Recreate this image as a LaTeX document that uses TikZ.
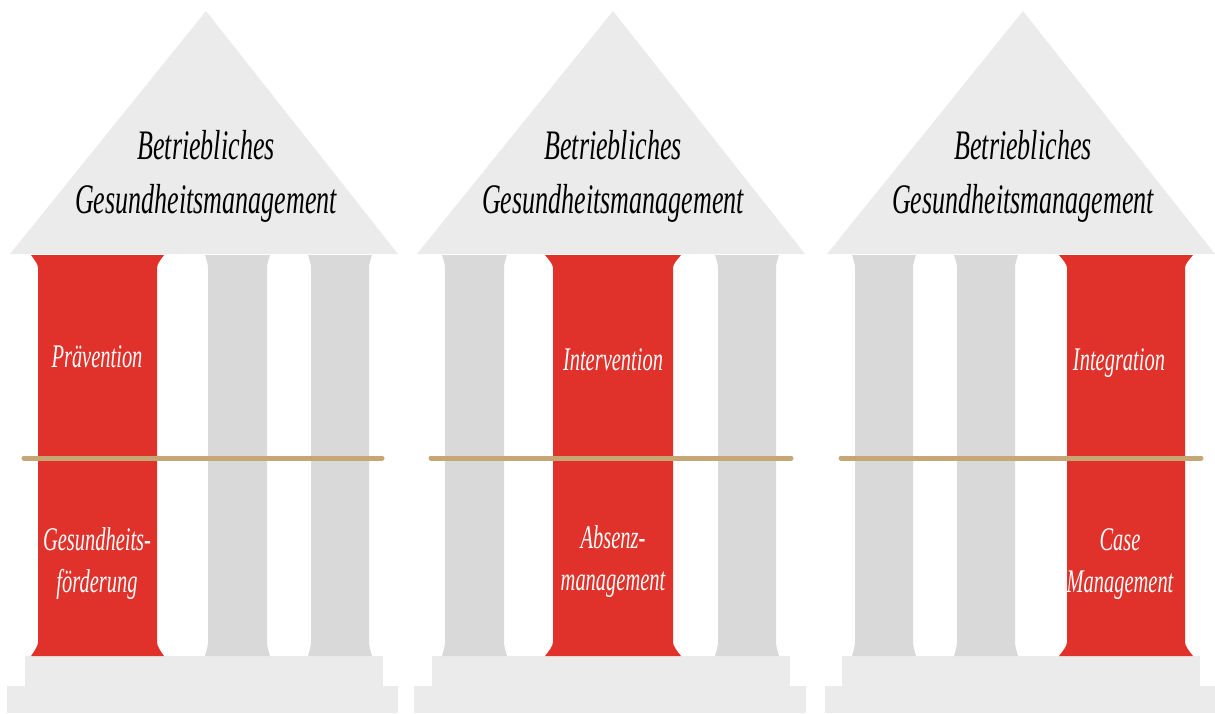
\documentclass[tikz,border=0pt]{standalone}
\usepackage{fontspec}
\setmainfont{Liberation Serif}
\newfontfamily\schmal[FakeStretch=0.62]{Liberation Serif}
\usepackage{tikz}
\usetikzlibrary{positioning}

\definecolor{hellgrau}{HTML}{EBEBEB}
\definecolor{saeulengrau}{HTML}{D9D9D9}
\definecolor{saeulenrot}{HTML}{E0322A}
\definecolor{balkenbraun}{HTML}{C6A674}

% Saeule: Stil, linke Kante, rechte Kante, Ueberstand des Kapitells
\newcommand{\Saeule}[4]{%
  \fill[#1] (#2-#4,255) -- (#3+#4,255)
    .. controls (#3+#4*0.5,260) and (#3,264) .. (#3,268) -- (#3,642)
    .. controls (#3,646) and (#3+#4*0.5,651) .. (#3+#4,656) -- (#2-#4,656)
    .. controls (#2-#4*0.5,651) and (#2,646) .. (#2,642) -- (#2,268)
    .. controls (#2,264) and (#2-#4*0.5,260) .. (#2-#4,255) -- cycle;}

\begin{document}
\begin{tikzpicture}[x=1pt,y=-1pt,
  dach/.style={fill=hellgrau},
  stufe/.style={fill=hellgrau},
  grau/.style={fill=saeulengrau},
  rot/.style={fill=saeulenrot},
  balken/.style={draw=balkenbraun,line width=5pt,line cap=round},
  titel/.style={font=\schmal\itshape\fontsize{42}{54}\selectfont,align=center,text=black,inner sep=0pt},
  schild/.style={font=\schmal\itshape\fontsize{33}{42}\selectfont,align=center,text=white,inner sep=0pt}]
\useasboundingbox (0,0) rectangle (1215,713);

% Tempel 1
\fill[dach] (10,254) -- (206,11) -- (398,254) -- cycle;
\fill[stufe] (25,656) rectangle (383,686);
\fill[stufe] (7,686) rectangle (398,713);
\Saeule{rot}{38}{157}{7}
\Saeule{grau}{208}{267}{3}
\Saeule{grau}{311}{369}{3}
\draw[balken] (24,458) -- (382,458);
\node[titel,anchor=base] (titel1) at (206,213) {Betriebliches\\Gesundheitsmanagement};
\node[schild,anchor=base] (oben1) at (97,367) {Prävention};
\node[schild,anchor=base] (unten1) at (97,592) {Gesundheits-\\förderung};

% Tempel 2
\begin{scope}[xshift=407pt]
\fill[dach] (10,254) -- (206,11) -- (398,254) -- cycle;
\fill[stufe] (25,656) rectangle (383,686);
\fill[stufe] (7,686) rectangle (399,713);
\Saeule{grau}{38}{97}{3}
\Saeule{rot}{146}{266}{8}
\Saeule{grau}{311}{369}{3}
\draw[balken] (24,458) -- (384,458);
\node[titel,anchor=base] (titel2) at (206,213) {Betriebliches\\Gesundheitsmanagement};
\node[schild,anchor=base] (oben2) at (206,370) {Intervention};
\node[schild,anchor=base] (unten2) at (206,590) {Absenz-\\management};
\end{scope}

% Tempel 3
\begin{scope}[xshift=817pt]
\fill[dach] (10,254) -- (206,11) -- (398,254) -- cycle;
\fill[stufe] (25,656) rectangle (383,686);
\fill[stufe] (8,686) rectangle (398,713);
\Saeule{grau}{38}{96}{3}
\Saeule{grau}{140}{198}{3}
\Saeule{rot}{250}{368}{8}
\draw[balken] (24,458) -- (384,458);
\node[titel,anchor=base] (titel3) at (206,213) {Betriebliches\\Gesundheitsmanagement};
\node[schild,anchor=base] (oben3) at (302,370) {Integration};
\node[schild,anchor=base] (unten3) at (303,592) {Case\\Management};
\end{scope}
\end{tikzpicture}
\end{document}
